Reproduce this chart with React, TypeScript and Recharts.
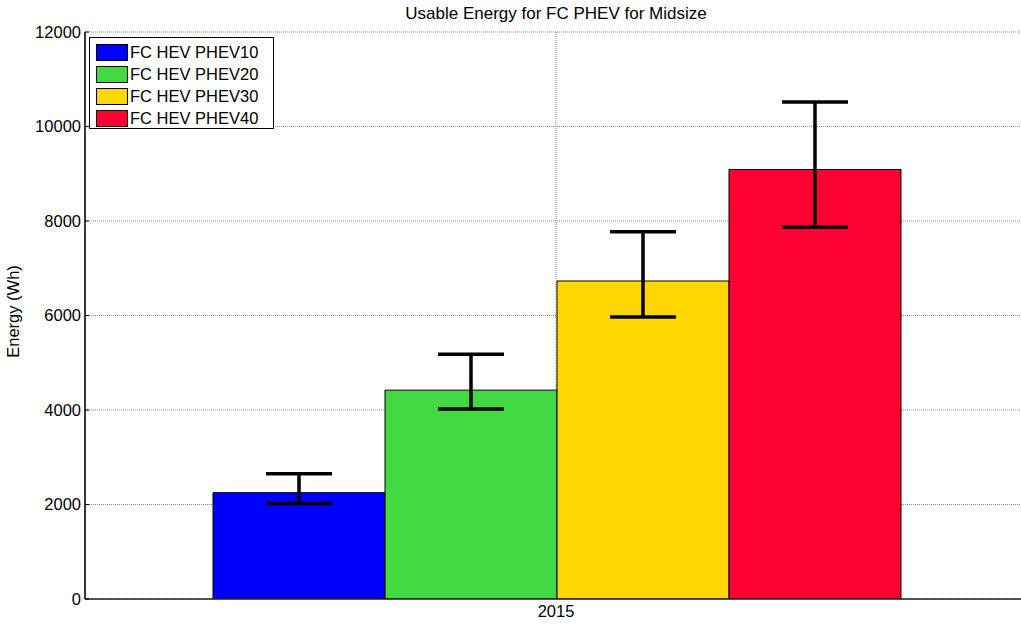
import { BarChart, Bar, XAxis, YAxis, CartesianGrid, ErrorBar, Legend } from "recharts";

const categories = ["2015"];
const seriesNames = ["FC HEV PHEV10", "FC HEV PHEV20", "FC HEV PHEV30", "FC HEV PHEV40"];
const seriesColors = ["#0000ff", "#42d942", "#ffd700", "#ff0033"];
const values = [2250, 4420, 6730, 9090];
const lowerBounds = [2020, 4020, 5970, 7870];
const upperBounds = [2650, 5180, 7770, 10520];
const yTicks = [0, 2000, 4000, 6000, 8000, 10000, 12000];

const FONT = "'Liberation Sans', Arial, Helvetica, sans-serif";

function buildData() {
  return categories.map((cat) => {
    const row: Record<string, any> = { year: cat };
    seriesNames.forEach((_, i) => {
      row[`s${i}`] = values[i];
      row[`e${i}`] = [values[i] - lowerBounds[i], upperBounds[i] - values[i]];
    });
    return row;
  });
}

function LegendBox() {
  return (
    <div
      style={{
        background: "#fff",
        border: "1px solid #000",
        width: 185,
        height: 92,
        boxSizing: "border-box",
        padding: "3px 0 0 6px",
        fontFamily: FONT,
        fontSize: 16.5,
        color: "#000",
      }}
    >
      {seriesNames.map((name, i) => (
        <div key={name} style={{ display: "flex", alignItems: "center", height: 22 }}>
          <span
            style={{
              display: "inline-block",
              width: 32,
              height: 17,
              background: seriesColors[i],
              border: "1px solid #000",
              boxSizing: "border-box",
              marginRight: 2,
            }}
          />
          <span>{name}</span>
        </div>
      ))}
    </div>
  );
}

export default function App() {
  const data = buildData();
  return (
    <div
      style={{
        position: "absolute",
        left: 0,
        top: 0,
        width: 1021,
        height: 625,
        overflow: "hidden",
        background: "#fff",
        fontFamily: FONT,
      }}
    >
      <div
        style={{
          position: "absolute",
          top: 4,
          left: 0,
          width: 1112,
          textAlign: "center",
          fontSize: 17,
          color: "#000",
        }}
      >
        Usable Energy for FC PHEV for Midsize
      </div>
      <BarChart
        width={1040}
        height={625}
        data={data}
        margin={{ top: 32, right: 13, bottom: 0, left: 0 }}
        barGap={0}
        barCategoryGap={128}
        style={{ fontFamily: FONT }}
      >
        <CartesianGrid stroke="#8a8a8a" strokeDasharray="1 1" />
        <XAxis
          dataKey="year"
          height={26}
          tickLine={false}
          tickSize={0}
          tickMargin={6}
          axisLine={{ stroke: "#222", strokeWidth: 1.5 }}
          tick={{ fill: "#000", fontSize: 16.5 }}
        />
        <YAxis
          width={85}
          domain={[0, 12000]}
          ticks={yTicks}
          allowDataOverflow
          tickSize={-4}
          tickMargin={8}
          tickLine={{ stroke: "#000" }}
          axisLine={{ stroke: "#000", strokeWidth: 1.5 }}
          tick={{ fill: "#000", fontSize: 16.5 }}
          label={{
            value: "Energy (Wh)",
            angle: -90,
            position: "insideLeft",
            offset: 13,
            dy: -4,
            style: { textAnchor: "middle", fill: "#000", fontSize: 16.5 },
          }}
        />
        <Legend
          layout="vertical"
          align="center"
          verticalAlign="middle"
          wrapperStyle={{ top: 37, left: 89, width: 185, height: 92 }}
          content={() => <LegendBox />}
        />
        {seriesNames.map((name, i) => (
          <Bar
            key={name}
            name={name}
            dataKey={`s${i}`}
            fill={seriesColors[i]}
            stroke="#000"
            strokeWidth={1}
            isAnimationActive={false}
          >
            <ErrorBar dataKey={`e${i}`} width={33} stroke="#000" strokeWidth={3.5} />
          </Bar>
        ))}
      </BarChart>
    </div>
  );
}
